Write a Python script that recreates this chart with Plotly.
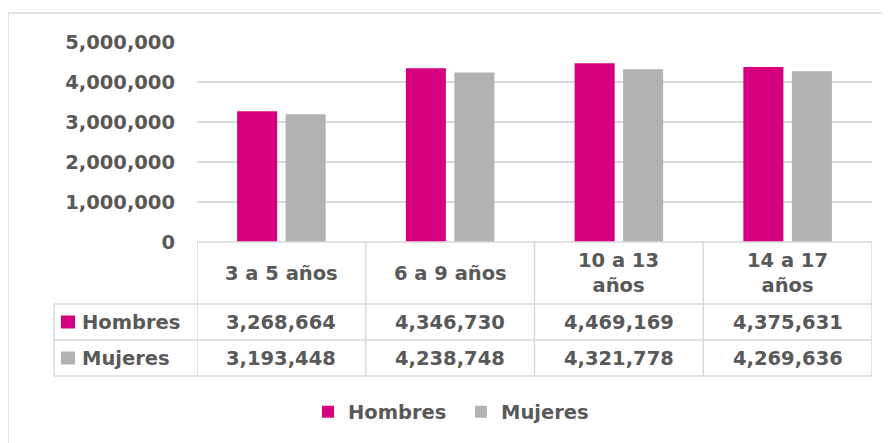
import plotly.graph_objects as go

categories = ["3 a 5 años", "6 a 9 años", "10 a 13 años", "14 a 17 años"]
header_labels = ["3 a 5 años", "6 a 9 años", "10 a 13<br>años", "14 a 17<br>años"]
hombres = [3268664, 4346730, 4469169, 4375631]
mujeres = [3193448, 4238748, 4321778, 4269636]
series_names = ["Hombres", "Mujeres"]
y_ticks = [0, 1000000, 2000000, 3000000, 4000000, 5000000]

C_H = "#D6007F"
C_M = "#B2B2B2"
TXT = "#595959"
GRID = "#D9D9D9"
FONT = "DejaVu Sans"

W, H = 890, 443
OFF = 8  # page body margin
L, R, T, B = 197, 872, 42, 242  # plot area in page px


def px(x):
    return (x - L) / (R - L)


def py(y):
    return (B - y) / (B - T)


fig = go.Figure()
fig.add_trace(go.Bar(x=categories, y=hombres, name=series_names[0], marker_color=C_H,
                     marker_line_width=0))
fig.add_trace(go.Bar(x=categories, y=mujeres, name=series_names[1], marker_color=C_M,
                     marker_line_width=0))

shapes = []
line = dict(color=GRID, width=1.5)
# outer chart border
shapes.append(dict(type="rect", xref="paper", yref="paper", x0=px(8), x1=px(920),
                   y0=py(13), y1=py(470), line=line, fillcolor="rgba(0,0,0,0)", layer="below"))
# table horizontal lines
rows_y = [242, 304, 340, 376]
for i, yy in enumerate(rows_y):
    x0 = L if i == 0 else 54
    shapes.append(dict(type="line", xref="paper", yref="paper", x0=px(x0), x1=px(R),
                       y0=py(yy), y1=py(yy), line=line))
# vertical lines at category boundaries
for k in range(len(categories) + 1):
    shapes.append(dict(type="line", xref="x", yref="paper", x0=k - 0.5, x1=k - 0.5,
                       y0=py(242), y1=py(376), line=line))
# left edge of row-label column
shapes.append(dict(type="line", xref="paper", yref="paper", x0=px(54), x1=px(54),
                   y0=py(304), y1=py(376), line=line))
# legend keys in table
row_centers = [322, 358]
for yc, col in zip(row_centers, [C_H, C_M]):
    shapes.append(dict(type="rect", xref="paper", yref="paper", x0=px(61), x1=px(75),
                       y0=py(yc - 6.5), y1=py(yc + 6.5), line=dict(width=0), fillcolor=col))

annotations = []
for i, lab in enumerate(header_labels):
    annotations.append(dict(x=i, xref="x", y=py(273), yref="paper", text=lab,
                            showarrow=False, xanchor="center", yanchor="middle"))
for yc, vals, name in zip(row_centers, [hombres, mujeres], series_names):
    annotations.append(dict(x=px(80), xref="paper", y=py(yc), yref="paper", text=name,
                            showarrow=False, xanchor="left", yanchor="middle"))
    for i, v in enumerate(vals):
        annotations.append(dict(x=i, xref="x", y=py(yc), yref="paper", text=f"{v:,}",
                                showarrow=False, xanchor="center", yanchor="middle"))

fig.update_layout(
    width=W, height=H, autosize=False,
    margin=dict(l=L - OFF, r=W - (R - OFF), t=T - OFF, b=H - (B - OFF), pad=0),
    paper_bgcolor="white", plot_bgcolor="white",
    font=dict(family=FONT, size=19.5, color=TXT, weight="bold"),
    barmode="group", bargap=0.425, bargroupgap=0.175,
    showlegend=True,
    legend=dict(orientation="h", x=px(308), xanchor="left", y=py(412), yanchor="middle",
                entrywidth=108, font=dict(family=FONT, size=19.5, color=TXT, weight="bold"),
                bgcolor="rgba(0,0,0,0)", traceorder="normal"),
    xaxis=dict(showticklabels=False, showgrid=False, zeroline=False, showline=False,
               ticks="", range=[-0.5, 3.5]),
    yaxis=dict(range=[0, 5000001], tickvals=y_ticks, tickformat=",d", showgrid=True,
               gridcolor=GRID, gridwidth=1.5, zeroline=False, showline=False, ticks="",
               ticklabelstandoff=21,
               tickfont=dict(family=FONT, size=19.5, color=TXT, weight="bold")),
    shapes=shapes, annotations=annotations,
)

fig.write_html("out.html")
